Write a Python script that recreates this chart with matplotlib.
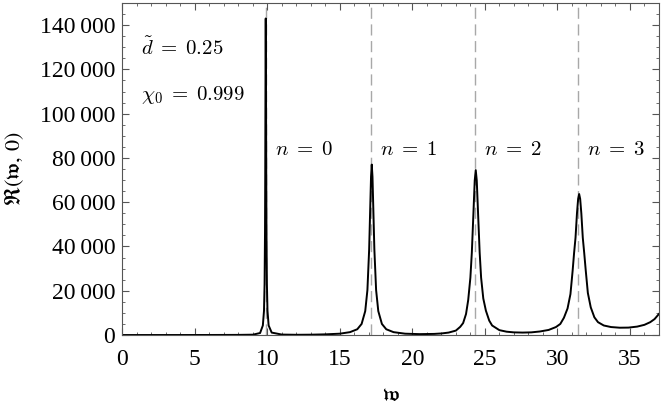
import numpy as np
import matplotlib
matplotlib.use('Agg')
import matplotlib.pyplot as plt
from matplotlib.ticker import MultipleLocator, FuncFormatter

## Curve (frequency w, response R)
w_vals = [0.0, 2.0, 4.0, 6.0, 8.0, 9.0, 9.5, 9.69, 9.77, 9.81, 9.84, 9.855, 9.87, 9.88,
          9.89, 9.9, 9.91, 9.925, 9.94, 9.97, 10.01, 10.09, 10.3, 11.0, 12.0, 13.0, 14.0,
          15.0, 15.7, 16.2, 16.5, 16.75, 16.9, 17.02, 17.1, 17.15, 17.2, 17.25, 17.3,
          17.38, 17.5, 17.65, 17.9, 18.2, 18.7, 19.5, 20.5, 21.5, 22.0, 22.5, 23.0, 23.3,
          23.5, 23.7, 23.85, 24.0, 24.1, 24.2, 24.3, 24.37, 24.44, 24.54, 24.64, 24.74,
          24.89, 25.07, 25.3, 25.5, 26.0, 26.5, 27.0, 27.6, 28.2, 28.8, 29.4, 29.9, 30.2,
          30.45, 30.7, 30.9, 31.05, 31.15, 31.25, 31.35, 31.43, 31.5, 31.57, 31.65, 31.75,
          31.85, 31.95, 32.1, 32.3, 32.55, 32.8, 33.2, 33.7, 34.3, 34.9, 35.5, 36.0, 36.4,
          36.7, 37.0]
r_vals = [0, 5, 10, 20, 60, 150, 900, 4300, 11000, 23000, 47000, 71500, 108000, 132000,
          143000, 132000, 108000, 71500, 47000, 23000, 11000, 4300, 1100, 200, 100, 150, 300,
          600, 1300, 2600, 5000, 10800, 20300, 38600, 58900, 71500, 77000, 71500, 58900,
          38600, 20300, 10800, 5000, 2600, 1300, 600, 400, 500, 700, 1100, 2000, 3700,
          5400, 9500, 15800, 25900, 37250, 53400, 69800, 74500, 69800, 53400, 37250, 25900,
          16500, 11000, 6500, 4300, 2200, 1500, 1200, 1100, 1200, 1600, 2300, 3600, 5000,
          7800, 12000, 18500, 29000, 37000, 44000, 55000, 61500, 63700, 61500, 55000, 44000,
          37000, 29500, 19000, 12500, 8000, 5800, 4300, 3600, 3300, 3350, 3800, 4600, 5800,
          7200, 9500]

## Resonance positions and labels
res_w = [9.9, 17.15, 24.33, 31.45]
res_labels = [r'$n\;=\;0$', r'$n\;=\;1$', r'$n\;=\;2$', r'$n\;=\;3$']
params = [r'$\tilde{d}\;=\;0.25$', r'$\chi_0\;=\;0.999$']

plt.rcParams['font.family'] = ['Liberation Serif', 'DejaVu Serif']
plt.rcParams['mathtext.fontset'] = 'cm'

fig = plt.figure(figsize=(6.64, 4.05), dpi=100)
ax = fig.add_axes([0.1842, 0.1728, 0.8088, 0.8198])

# dashed markers of the resonances
for xv in res_w:
   ax.axvline(xv, color='#a8a8a8', lw=1.0, dashes=(8, 4), zorder=1)
ax.plot(w_vals, r_vals, color='black', lw=1.4, zorder=2)

for xv, lab in zip(res_w, res_labels):
   ax.text(xv + 0.6, 81300, lab, fontsize=15, va='baseline', ha='left', math_fontfamily='cm')
ax.text(1.29, 126500, params[0], fontsize=15, va='baseline', ha='left', math_fontfamily='cm')
ax.text(1.29, 106100, params[1], fontsize=15, va='baseline', ha='left', math_fontfamily='cm')

ax.set_xlim(0, 37.03)
ax.set_ylim(0, 150000)

# frame and ticks (Mathematica style)
for sp in ax.spines.values():
   sp.set_color('#555555')
   sp.set_linewidth(0.8)
ax.xaxis.set_major_locator(MultipleLocator(5))
ax.xaxis.set_minor_locator(MultipleLocator(1))
ax.yaxis.set_major_locator(MultipleLocator(20000))
ax.yaxis.set_minor_locator(MultipleLocator(5000))
ax.yaxis.set_major_formatter(FuncFormatter(lambda v, p: '{:,}'.format(int(v)).replace(',', '\u2009')))
ax.tick_params(which='both', direction='in', top=True, right=True, color='#555555')
ax.tick_params(which='major', length=5, width=0.8, labelsize=17, pad=5)
ax.tick_params(axis='x', which='major', pad=10)
ax.tick_params(which='minor', length=2.5, width=0.6)

ax.set_xlabel(r'$\mathfrak{w}$', fontsize=16, math_fontfamily='stix', labelpad=12)
ax.set_ylabel(r'$\mathfrak{R}(\mathfrak{w},\, 0)$', fontsize=16, math_fontfamily='stix', labelpad=10)

fig.savefig('out.png', dpi=100)
